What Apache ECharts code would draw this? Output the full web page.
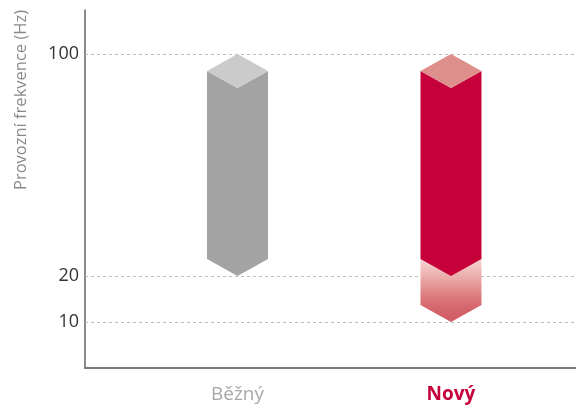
<!DOCTYPE html>
<html>
<head>
<meta charset="utf-8">
<script src="https://cdn.jsdelivr.net/npm/echarts@6/dist/echarts.min.js"></script>
<style>
  html, body { margin: 0; padding: 0; background: #fff; }
  #chart { width: 576px; height: 410px; }
</style>
</head>
<body>
<div id="chart"></div>
<script>
// Operating frequency ranges (Hz)
const categories = ['Běžný', 'Nový'];
const rangeLow = [20, 20];
const rangeHigh = [100, 100];
const extendedLow = [null, 10];   // extra low-frequency reach of the new unit
const yTicks = [10, 20, 100];

// Broken frequency axis: 0–20 Hz at full scale, above 20 Hz compressed
const BREAK_AT = 20;
const UPPER_RATIO = 0.6033;
function toAxis(v) {
  return v <= BREAK_AT ? v : BREAK_AT + (v - BREAK_AT) * UPPER_RATIO;
}
function fromAxis(a) {
  return a <= BREAK_AT ? a : BREAK_AT + (a - BREAK_AT) / UPPER_RATIO;
}

const bodyColors = ['#a2a3a2', '#c5003b'];
const capColors = ['#cacbca', '#de8e8b'];
const labelStyles = ['plain', 'strong'];

const FONT = '"Open Sans", "Noto Sans", sans-serif';

const seriesData = categories.map((c, i) => [
  i + 1,
  toAxis(rangeLow[i]),
  toAxis(rangeHigh[i]),
  extendedLow[i] == null ? '-' : toAxis(extendedLow[i])
]);

function renderColumn(params, api) {
  const i = params.dataIndex;
  const x = api.value(0);
  const top = api.coord([x, api.value(2)]);
  const bot = api.coord([x, api.value(1)]);
  const cx = top[0];
  const hw = 30.5;   // half column width
  const cap = 17;    // height of the bevelled tip
  const children = [];

  const ext = api.value(3);
  if (!isNaN(ext)) {
    const e = api.coord([x, ext]);
    children.push({
      type: 'polygon',
      shape: { points: [
        [cx - hw, bot[1] - cap], [cx + hw, bot[1] - cap],
        [cx + hw, e[1] - cap], [cx, e[1]], [cx - hw, e[1] - cap]
      ] },
      style: {
        fill: new echarts.graphic.LinearGradient(0, 0, 0, 1, [
          { offset: 0, color: '#f6d6d4' },
          { offset: 0.3, color: '#eaaaa9' },
          { offset: 0.6, color: '#dc7a7d' },
          { offset: 0.8, color: '#d4636a' },
          { offset: 1, color: '#d45c64' }
        ])
      }
    });
  }

  children.push({
    type: 'polygon',
    shape: { points: [
      [cx - hw, top[1] + cap], [cx, top[1] + 2 * cap], [cx + hw, top[1] + cap],
      [cx + hw, bot[1] - cap], [cx, bot[1]], [cx - hw, bot[1] - cap]
    ] },
    style: { fill: bodyColors[i] }
  });
  children.push({
    type: 'polygon',
    shape: { points: [
      [cx, top[1]], [cx + hw, top[1] + cap], [cx, top[1] + 2 * cap], [cx - hw, top[1] + cap]
    ] },
    style: { fill: capColors[i] }
  });
  return { type: 'group', children: children };
}

const chart = echarts.init(document.getElementById('chart'), null, { renderer: 'canvas' });
chart.setOption({
  animation: false,
  backgroundColor: '#fff',
  grid: { left: 85, right: 0, top: 10, bottom: 42, containLabel: false, outerBoundsMode: 'none' },
  xAxis: {
    type: 'value',
    min: 0.2857,
    max: 2.5855,
    splitLine: { show: false },
    axisTick: { show: false },
    axisLine: { show: true, onZero: false, lineStyle: { color: '#7a7a7a', width: 2 } },
    axisLabel: {
      customValues: categories.map((c, i) => i + 1),
      margin: 17,
      formatter: v => {
        const i = Math.round(v) - 1;
        return '{' + labelStyles[i] + '|' + categories[i] + '}';
      },
      rich: {
        plain: { fontFamily: FONT, fontSize: 19, color: '#a8a8a8' },
        strong: { fontFamily: FONT, fontSize: 19, fontWeight: 'bold', color: '#c5003b' }
      }
    }
  },
  yAxis: {
    type: 'value',
    min: 0,
    max: 77.83,
    splitLine: { show: false },
    axisTick: { show: false },
    axisLine: { show: true, onZero: false, lineStyle: { color: '#666', width: 1.5 } },
    axisLabel: {
      customValues: yTicks.map(toAxis),
      margin: 6,
      fontFamily: FONT,
      fontSize: 18,
      color: '#333',
      formatter: v => String(Math.round(fromAxis(v)))
    }
  },
  graphic: [{
    type: 'text',
    x: 21,
    y: 190,
    rotation: Math.PI / 2,
    style: {
      text: 'Provozní frekvence (Hz)',
      fontFamily: FONT,
      fontSize: 16.5,
      fill: '#8a8a8a',
      align: 'left',
      verticalAlign: 'middle'
    }
  }],
  series: [
    {
      type: 'line',
      data: [],
      z: 1,
      silent: true,
      markLine: {
        silent: true,
        symbol: 'none',
        label: { show: false },
        lineStyle: { color: '#bdbdbd', type: [3, 3], width: 1 },
        data: yTicks.map(t => ({ yAxis: toAxis(t) }))
      }
    },
    {
      type: 'custom',
      z: 5,
      renderItem: renderColumn,
      encode: { x: 0, y: [1, 2] },
      data: seriesData
    }
  ]
});
</script>
</body>
</html>
